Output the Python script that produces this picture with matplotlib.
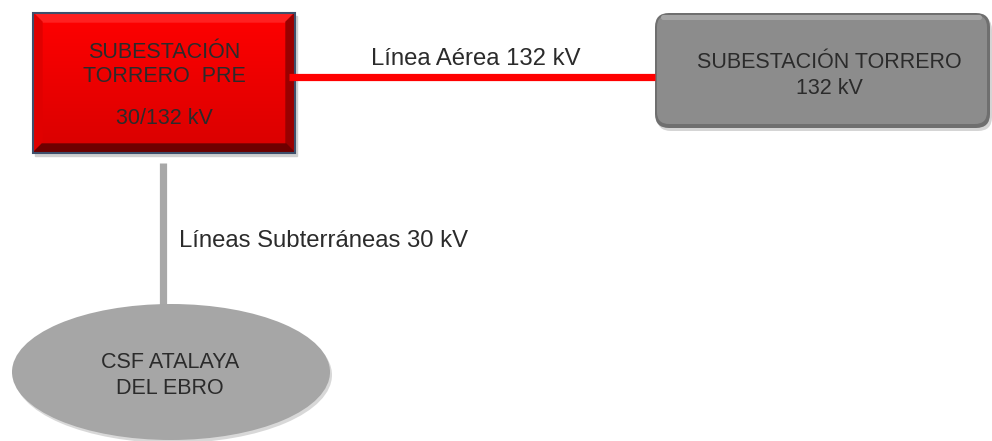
import matplotlib
matplotlib.use("Agg")
import matplotlib.pyplot as plt
import numpy as np
from matplotlib.patches import Rectangle, FancyBboxPatch, Ellipse, Polygon

plt.rcParams['font.family'] = ['Liberation Sans', 'DejaVu Sans']

# node labels
red_box_lines = ["SUBESTACIÓN", "TORRERO  PRE", "30/132 kV"]
gray_box_lines = ["SUBESTACIÓN TORRERO", "132 kV"]
ellipse_lines = ["CSF ATALAYA", "DEL EBRO"]
link_labels = ["Línea Aérea 132 kV", "Líneas Subterráneas 30 kV"]

W, H = 992, 441
fig = plt.figure(figsize=(W / 100, H / 100), dpi=100)
ax = fig.add_axes([0, 0, 1, 1])
ax.set_xlim(0, W)
ax.set_ylim(H, 0)
ax.axis('off')

txt = '#2b2b2b'
fs_node = 15.5
fs_link = 17.2

# connecting lines
ax.plot([289, 655], [76.5, 76.5], color='#ff0000', lw=5.2, solid_capstyle='butt', zorder=6)
ax.plot([163, 163], [163, 305], color='#a8a8a8', lw=5.2, solid_capstyle='butt', zorder=1)

# red beveled box
x0, y0, x1, y1 = 33, 13, 295, 153
b = 9
ax.add_patch(Rectangle((x0 + 2, y0 + 3), x1 - x0, y1 - y0, color='#d0d0d0', zorder=2))
grad = np.linspace(0, 1, 100).reshape(-1, 1)
cols = np.zeros((100, 1, 3))
cols[:, 0, 0] = 1.0 - 0.15 * grad[:, 0]
im = ax.imshow(cols, extent=(x0, x1, y1, y0), aspect='auto', zorder=3)
clip = Rectangle((x0, y0), x1 - x0, y1 - y0, transform=ax.transData)
im.set_clip_path(clip)
ax.add_patch(Polygon([(x0, y0), (x1, y0), (x1 - b, y0 + b), (x0 + b, y0 + b)], color='#ff2020', zorder=4))
ax.add_patch(Polygon([(x0, y0), (x0 + b, y0 + b), (x0 + b, y1 - b), (x0, y1)], color='#e00000', zorder=4))
ax.add_patch(Polygon([(x1, y0), (x1, y1), (x1 - b, y1 - b), (x1 - b, y0 + b)], color='#9a0000', zorder=4))
ax.add_patch(Polygon([(x0, y1), (x1, y1), (x1 - b, y1 - b), (x0 + b, y1 - b)], color='#6e0000', zorder=4))
ax.add_patch(Rectangle((x0, y0), x1 - x0, y1 - y0, fill=False, ec='#3e4f6b', lw=1.5, zorder=5))
cx = (x0 + x1) / 2
for s, yy in zip(red_box_lines, [52, 77, 118]):
    ax.text(cx, yy, s, ha='center', va='center', fontsize=fs_node, color=txt, zorder=7)

# gray rounded box
gx0, gy0, gx1, gy1 = 655, 13, 990, 128
ax.add_patch(FancyBboxPatch((gx0 + 2, gy0 + 3), gx1 - gx0, gy1 - gy0,
                            boxstyle='round,pad=0,rounding_size=14', fc='#d5d5d5', ec='none', zorder=2))
ax.add_patch(FancyBboxPatch((gx0, gy0), gx1 - gx0, gy1 - gy0,
                            boxstyle='round,pad=0,rounding_size=14', fc='#6f6f6f', ec='none', zorder=3))
ax.add_patch(FancyBboxPatch((gx0 + 2, gy0 + 2), gx1 - gx0 - 5, gy1 - gy0 - 6,
                            boxstyle='round,pad=0,rounding_size=12', fc='#8c8c8c', ec='none', zorder=4))
ax.add_patch(FancyBboxPatch((gx0 + 6, gy0 + 2), gx1 - gx0 - 14, 5,
                            boxstyle='round,pad=0,rounding_size=2.5', fc='#a5a5a5', ec='none', zorder=4))
gcx = 829
for s, yy in zip(gray_box_lines, [63, 88]):
    ax.text(gcx, yy, s, ha='center', va='center', fontsize=fs_node, color=txt, zorder=7)

# ellipse
ax.add_patch(Ellipse((173, 375), 318, 136, fc='#d8d8d8', ec='none', zorder=2))
ax.add_patch(Ellipse((171, 372), 318, 136, fc='#a6a6a6', ec='none', zorder=3))
for s, yy in zip(ellipse_lines, [363, 388]):
    ax.text(170, yy, s, ha='center', va='center', fontsize=fs_node, color=txt, zorder=7)

# link labels
ax.text(476, 59, link_labels[0], ha='center', va='center', fontsize=fs_link, color=txt)
ax.text(179, 241, link_labels[1], ha='left', va='center', fontsize=fs_link, color=txt)

fig.savefig('out.png', dpi=100)
